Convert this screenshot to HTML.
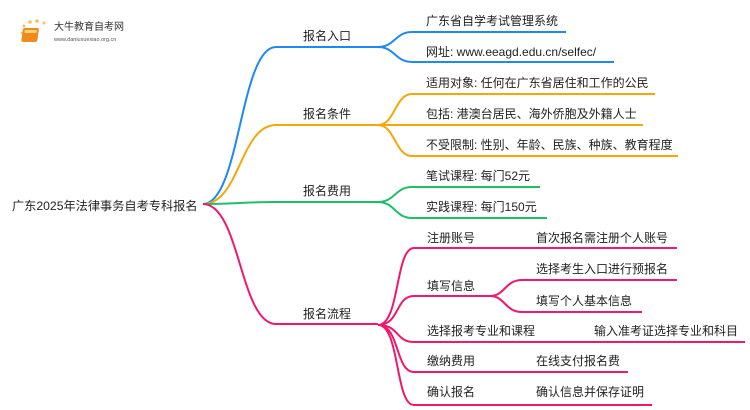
<!DOCTYPE html>
<html><head><meta charset="utf-8"><style>
html,body{margin:0;padding:0;background:#fff;width:750px;height:410px;overflow:hidden}
svg text{font-family:"Liberation Sans","Noto Sans CJK SC",sans-serif;fill:#222}
</style></head><body>
<svg width="750" height="410" viewBox="0 0 750 410" xmlns="http://www.w3.org/2000/svg" fill="none" stroke-width="2">
<g>
<circle cx="24" cy="26" r="1.5" fill="#f6c25a" stroke="none"/><circle cx="30" cy="22" r="1.8" fill="#f6c25a" stroke="none"/><circle cx="37" cy="21" r="1.8" fill="#f6c25a" stroke="none"/><circle cx="44" cy="23" r="1.5" fill="#f6c25a" stroke="none"/><circle cx="22" cy="33" r="1.3" fill="#f6c25a" stroke="none"/>
<rect x="27" y="28" width="16" height="14" rx="2" fill="#f08a1c" stroke="none" transform="skewX(-8)"/>
<rect x="29" y="30" width="12" height="3" fill="#fbd27a" stroke="none" transform="skewX(-8)"/>
<text x="54" y="30" font-size="10" style="fill:#333">大牛教育自考网</text>
<text x="54" y="41" font-size="5.5" style="fill:#555">www.daniuxuexiao.org.cn</text>
</g>
<text x="12" y="210" font-size="12.2">广东2025年法律事务自考专科报名</text>
<path d="M203,204 C240,204 240,47 276,47 L378,47" stroke="#1e88f5"/>
<path d="M378,47 C395,47 395,32 412,32 L566,32 M378,47 C395,47 395,62 412,62 L614,62" stroke="#1e88f5"/>
<path d="M203,204 C240,204 240,125 276,125 L378,125" stroke="#f5a70a"/>
<path d="M378,125 C395,125 395,94 412,94 L655,94 M378,125 L643,125 M378,125 C395,125 395,156 412,156 L678,156" stroke="#f5a70a"/>
<path d="M203,204 C240,204 240,202 276,202 L378,202" stroke="#1fbf6a"/>
<path d="M378,202 C395,202 395,187 412,187 L540,187 M378,202 C395,202 395,218 412,218 L547,218" stroke="#1fbf6a"/>
<path d="M203,204 C240,204 240,324 276,324 L378,324" stroke="#f0186e"/>
<path d="M378,325 C400,325 395,248 414,248 L677,248 M378,325 C400,325 395,296 414,296 L492,296 M378,325 C400,325 395,342 414,342 L745,342 M378,325 C400,325 395,372 414,372 L628,372 M378,325 C400,325 395,405 414,405 L652,405" stroke="#f0186e"/>
<path d="M490,296 C505,296 505,280 522,280 L677,280 M490,296 C505,296 505,312 522,312 L642,312" stroke="#f0186e"/>
<g font-size="12">
<text x="303" y="40">报名入口</text>
<text x="303" y="118">报名条件</text>
<text x="303" y="195">报名费用</text>
<text x="303" y="318">报名流程</text>
<text x="426" y="25">广东省自学考试管理系统</text>
<text x="426" y="56">网址: www.eeagd.edu.cn/selfec/</text>
<text x="426" y="87">适用对象: 任何在广东省居住和工作的公民</text>
<text x="426" y="118">包括: 港澳台居民、海外侨胞及外籍人士</text>
<text x="426" y="149">不受限制: 性别、年龄、民族、种族、教育程度</text>
<text x="426" y="180">笔试课程: 每门52元</text>
<text x="426" y="211">实践课程: 每门150元</text>
<text x="427" y="242">注册账号</text>
<text x="536" y="242">首次报名需注册个人账号</text>
<text x="427" y="290">填写信息</text>
<text x="536" y="273">选择考生入口进行预报名</text>
<text x="536" y="305">填写个人基本信息</text>
<text x="427" y="335">选择报考专业和课程</text>
<text x="594" y="335">输入准考证选择专业和科目</text>
<text x="427" y="365">缴纳费用</text>
<text x="536" y="365">在线支付报名费</text>
<text x="427" y="396">确认报名</text>
<text x="536" y="396">确认信息并保存证明</text>
</g>
</svg>
</body></html>
